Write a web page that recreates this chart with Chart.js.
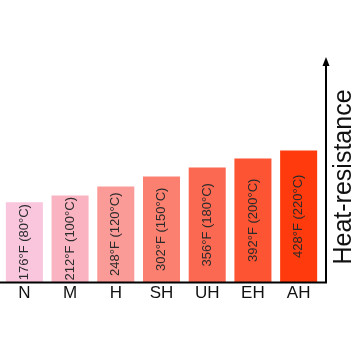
<!DOCTYPE html>
<html>
<head>
<meta charset="utf-8">
<script src="https://cdn.jsdelivr.net/npm/chart.js@4/dist/chart.umd.min.js"></script>
<style>
  html, body { margin: 0; padding: 0; background: #fff; }
  #wrap { width: 360px; height: 360px; position: relative; }
</style>
</head>
<body>
<div id="wrap"><canvas id="grade-chart"></canvas></div>
<script>
// grades along the x axis
const grades = ['N', 'M', 'H', 'SH', 'UH', 'EH', 'AH'];
// relative bar height (no numeric scale in the picture)
const heatLevel = [80, 87, 96, 106, 115, 124, 132];
// text written inside each bar
const tempLabels = ['176°F (80°C)', '212°F (100°C)', '248°F (120°C)', '302°F (150°C)',
  '356°F (180°C)', '392°F (200°C)', '428°F (220°C)'];
const barColors = ['#f9c6dd', '#f9b3c1', '#fa9b98', '#fb8070', '#fc6952', '#fd5433', '#ff3b0d'];
const axisTitle = 'Heat-resistance';

const FONT = '"Liberation Sans", Arial, Helvetica, sans-serif';

// draws the temperature text rotated inside bars, the axes and the arrow
const decorations = {
  id: 'decorations',
  afterDatasetsDraw(chart) {
    const ctx = chart.ctx;
    const area = chart.chartArea;
    const meta = chart.getDatasetMeta(0);

    ctx.save();
    ctx.fillStyle = '#2b2b2b';
    ctx.font = '13px ' + FONT;
    ctx.textAlign = 'center';
    ctx.textBaseline = 'middle';
    meta.data.forEach((bar, i) => {
      const cy = (bar.y + bar.base) / 2;
      ctx.save();
      ctx.translate(bar.x, cy);
      ctx.rotate(-Math.PI / 2);
      ctx.fillText(tempLabels[i], 0, 0);
      ctx.restore();
    });
    ctx.restore();

    // axes
    const ax = area.right + 4.5;
    const base = area.bottom;
    ctx.save();
    ctx.strokeStyle = '#000';
    ctx.lineWidth = 2;
    ctx.beginPath();
    ctx.moveTo(0, base + 0.5);
    ctx.lineTo(ax + 1, base + 0.5);
    ctx.moveTo(ax, base + 1);
    ctx.lineTo(ax, area.top + 6);
    ctx.stroke();
    ctx.fillStyle = '#000';
    ctx.beginPath();
    ctx.moveTo(ax, area.top - 1);
    ctx.lineTo(ax - 3.5, area.top + 8);
    ctx.lineTo(ax + 3.5, area.top + 8);
    ctx.closePath();
    ctx.fill();

    // axis title
    ctx.fillStyle = '#111';
    ctx.font = '25px ' + FONT;
    ctx.textAlign = 'center';
    ctx.textBaseline = 'middle';
    ctx.translate(344, 177);
    ctx.rotate(-Math.PI / 2);
    ctx.fillText(axisTitle, 0, 0);
    ctx.restore();
  }
};

const ctx = document.getElementById('grade-chart').getContext('2d');
const gradeChart = new Chart(ctx, {
  type: 'bar',
  data: {
    labels: grades,
    datasets: [{
      data: heatLevel,
      backgroundColor: barColors,
      borderWidth: 0,
      barPercentage: 0.81,
      categoryPercentage: 1
    }]
  },
  options: {
    responsive: true,
    maintainAspectRatio: false,
    animation: false,
    layout: {
      padding: { left: 1.5, right: 38.5, top: 58, bottom: 55.6 }
    },
    plugins: {
      legend: { display: false },
      tooltip: { enabled: false }
    },
    scales: {
      x: {
        grid: { display: false, drawTicks: false },
        border: { display: false },
        ticks: {
          padding: 1,
          color: '#111',
          font: { family: FONT, size: 17 }
        }
      },
      y: {
        display: false,
        min: 0,
        max: 225
      }
    }
  },
  plugins: [decorations]
});
</script>
</body>
</html>
